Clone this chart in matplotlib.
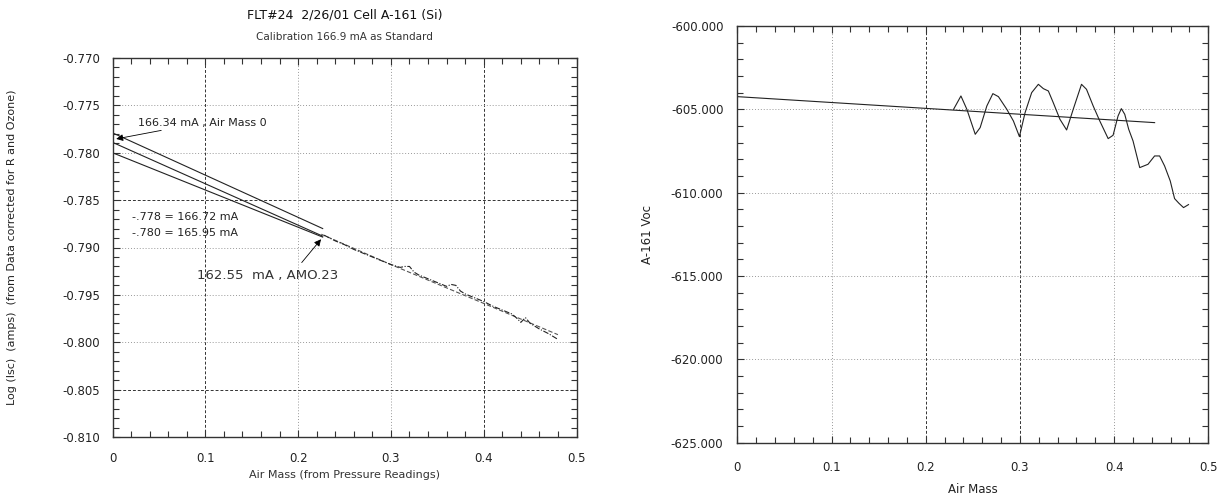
import numpy as np
import matplotlib
matplotlib.use("Agg")
from matplotlib import pyplot as plt
from matplotlib.ticker import MultipleLocator, FormatStrFormatter

# left panel: three extrapolation lines (air mass 0 -> ~0.23)
line_x = [0.0, 0.2265]
line_top = [-0.7779, -0.7880]
line_mid = [-0.7789, -0.7888]
line_low = [-0.7800, -0.7889]

# measured log(Isc) vs air mass
meas_x = [0.228, 0.24, 0.25, 0.26, 0.27, 0.28, 0.29, 0.30, 0.31, 0.315, 0.32, 0.325,
          0.33, 0.34, 0.35, 0.36, 0.365, 0.37, 0.375, 0.38, 0.39, 0.40, 0.41, 0.42,
          0.43, 0.435, 0.44, 0.445, 0.45, 0.46, 0.47, 0.48]
meas_y = [-0.7887, -0.7893, -0.7897, -0.7902, -0.7906, -0.7910, -0.7914, -0.7918,
          -0.7921, -0.7920, -0.7920, -0.7926, -0.7929, -0.7933, -0.7937, -0.7941,
          -0.7939, -0.7940, -0.7946, -0.7949, -0.7953, -0.7957, -0.7962, -0.7966,
          -0.7970, -0.7974, -0.7979, -0.7974, -0.7980, -0.7986, -0.7991, -0.7997]
fit_x = [0.225, 0.30, 0.40, 0.48]
fit_y = [-0.7886, -0.7918, -0.7959, -0.7992]

# right panel: Voc vs air mass
voc_fit_x = [0.0, 0.443]
voc_fit_y = [-604.24, -605.8]
voc_x = [0.2296, 0.2374, 0.2437, 0.2526, 0.2578, 0.2649, 0.2713, 0.2772, 0.2861, 0.2931,
         0.2995, 0.3055, 0.3125, 0.3196, 0.3249, 0.3302, 0.3354, 0.3425, 0.3496, 0.3566,
         0.3654, 0.3707, 0.3778, 0.3848, 0.3937, 0.3989, 0.4042, 0.4077, 0.4113, 0.4155,
         0.4201, 0.4272, 0.4360, 0.4430, 0.4483, 0.4536, 0.4596, 0.4642, 0.4688, 0.4737,
         0.4790]
voc_y = [-605.0, -604.2, -605.0, -606.5, -606.1, -604.8, -604.06, -604.24, -605.0, -605.7,
         -606.64, -605.2, -604.0, -603.5, -603.76, -603.9, -604.6, -605.6, -606.24, -605.0,
         -603.5, -603.8, -604.8, -605.7, -606.76, -606.56, -605.4, -604.96, -605.3, -606.2,
         -606.9, -608.5, -608.3, -607.8, -607.8, -608.4, -609.3, -610.36, -610.64, -610.9,
         -610.72]

plt.rcParams['font.family'] = ['DejaVu Sans']
fig = plt.figure(figsize=(12.2, 4.97), dpi=100)
ax1 = fig.add_axes([112.5 / 1220, 1 - 437 / 497, 464 / 1220, 379 / 497])
ax2 = fig.add_axes([737.3 / 1220, 1 - 442.5 / 497, 471 / 1220, 416.5 / 497])

dark = dict(color='#333333', linestyle=(0, (3, 2)), linewidth=0.7)
light = dict(color='#999999', linestyle=(0, (1, 2)), linewidth=0.7)


def style_axes(ax, xmaj, xmin, ymaj, ymin, yfmt, xpad, ypad):
    ax.xaxis.set_major_locator(MultipleLocator(xmaj))
    ax.xaxis.set_minor_locator(MultipleLocator(xmin))
    ax.yaxis.set_major_locator(MultipleLocator(ymaj))
    ax.yaxis.set_minor_locator(MultipleLocator(ymin))
    ax.yaxis.set_major_formatter(FormatStrFormatter(yfmt))
    ax.xaxis.set_major_formatter(FormatStrFormatter('%g'))
    ax.tick_params(which='both', direction='in', top=True, right=True, color='#333333',
                   labelsize=8.5, labelcolor='#222222')
    ax.tick_params(which='major', length=5, width=0.8)
    ax.tick_params(which='minor', length=4, width=0.8)
    ax.tick_params(axis='x', which='major', pad=xpad)
    ax.tick_params(axis='y', which='major', pad=ypad)
    for sp in ax.spines.values():
        sp.set_color('#333333')
        sp.set_linewidth(1.0)


# ---- left panel ----
ax1.set_xlim(0, 0.5)
ax1.set_ylim(-0.810, -0.770)
style_axes(ax1, 0.1, 0.02, 0.005, 0.001, '%.3f', 11, 9)
ax1.grid(True, which='major')
for val, gl in zip(ax1.get_xticks(), ax1.get_xgridlines()):
    st = dark if round(val, 2) in (0.1, 0.4) else light
    gl.set(**st)
for val, gl in zip(ax1.get_yticks(), ax1.get_ygridlines()):
    st = dark if round(val, 3) in (-0.785, -0.805) else light
    gl.set(**st)

ax1.plot(line_x, line_top, color='#222222', lw=0.8)
ax1.plot(line_x, line_mid, color='#222222', lw=0.8)
ax1.plot(line_x, line_low, color='#222222', lw=0.8)
ax1.plot(fit_x, fit_y, color='#555555', lw=0.8, linestyle=(0, (4, 2)))
ax1.plot(meas_x, meas_y, color='#222222', lw=0.8, linestyle=(0, (5, 1.5, 1, 1.5)))

arrow = dict(arrowstyle='-|>', color='k', lw=0.6, mutation_scale=10, shrinkA=0, shrinkB=0)
ax1.annotate('166.34 mA , Air Mass 0', xy=(0.004, -0.77854), xytext=(0.0275, -0.77682),
             fontsize=8, color='#222222', va='center', ha='left', arrowprops=arrow)
ax1.text(0.0207, -0.7868, '-.778 = 166.72 mA', fontsize=8, color='#222222', va='center')
ax1.text(0.0207, -0.78843, '-.780 = 165.95 mA', fontsize=8, color='#222222', va='center')
ax1.annotate('', xy=(0.2247, -0.78913), xytext=(0.2039, -0.79159), arrowprops=arrow)
ax1.text(0.0907, -0.7930, '162.55  mA , AMO.23', fontsize=9.5, color='#333333', va='center')

fig.text(344.5 / 1220, 1 - 15 / 497, 'FLT#24  2/26/01 Cell A-161 (Si)', fontsize=9,
         ha='center', va='center', color='#111111')
fig.text(344.5 / 1220, 1 - 37 / 497, 'Calibration 166.9 mA as Standard', fontsize=7.5,
         ha='center', va='center', color='#333333')
ax1.set_xlabel('Air Mass (from Pressure Readings)', fontsize=8, color='#333333', va='center')
ax1.xaxis.set_label_coords(0.5, -0.100)
ax1.set_ylabel('Log (Isc)  (amps)  (from Data corrected for R and Ozone)', fontsize=8,
               color='#222222', va='center')
ax1.yaxis.set_label_coords(-0.217, 0.5)

# ---- right panel ----
ax2.set_xlim(0, 0.5)
ax2.set_ylim(-625, -600)
style_axes(ax2, 0.1, 0.02, 5, 1, '%.3f', 13, 10)
ax2.grid(True, which='major')
for val, gl in zip(ax2.get_xticks(), ax2.get_xgridlines()):
    st = dark if round(val, 2) in (0.2, 0.3) else light
    gl.set(**st)
for gl in ax2.get_ygridlines():
    gl.set(**light)

ax2.plot(voc_fit_x, voc_fit_y, color='#222222', lw=0.8)
ax2.plot(voc_x, voc_y, color='#222222', lw=0.8)

ax2.set_xlabel('Air Mass', fontsize=8.5, color='#222222', va='center')
ax2.xaxis.set_label_coords(0.5, -0.112)
ax2.set_ylabel('A-161 Voc', fontsize=8.5, color='#222222', va='center')
ax2.yaxis.set_label_coords(-0.19, 0.5)

fig.savefig('out.png', dpi=100)
